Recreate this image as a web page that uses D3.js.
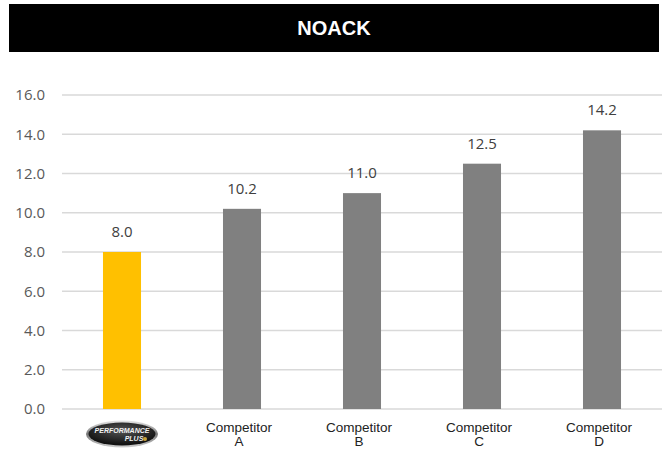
<!DOCTYPE html>
<html>
<head>
<meta charset="utf-8">
<script src="https://cdn.jsdelivr.net/npm/d3@7"></script>
<style>
  body { margin: 0; background: #fff; }
  svg { display: block; }
</style>
</head>
<body>
<svg id="chart"></svg>
<script>
// chart data
var categories = ["Performance Plus", "Competitor A", "Competitor B", "Competitor C", "Competitor D"];
var values = [8.0, 10.2, 11.0, 12.5, 14.2];
var barColors = ["#ffc000", "#808080", "#808080", "#808080", "#808080"];
var yTicks = [0, 2, 4, 6, 8, 10, 12, 14, 16];

var width = 668,
    height = 453,
    plotLeft = 62,
    plotRight = 662,
    plotTop = 95,
    plotBottom = 409;

var svg = d3.select("#chart")
    .attr("width", width)
    .attr("height", height);

// title bar
svg.append("rect")
    .attr("x", 9).attr("y", 4)
    .attr("width", 650).attr("height", 48)
    .attr("fill", "#000");
svg.append("text")
    .attr("x", 334).attr("y", 35)
    .attr("text-anchor", "middle")
    .attr("fill", "#fff")
    .style("font", "bold 20px 'Liberation Sans', Arial, sans-serif")
    .text("NOACK");

var x = d3.scaleBand()
    .domain(categories)
    .range([plotLeft, plotRight])
    .paddingInner(0.683)
    .paddingOuter(0.3415);

var y = d3.scaleLinear()
    .domain([0, 16])
    .range([plotBottom, plotTop]);

// gridlines
svg.append("g")
    .selectAll("line")
    .data(yTicks)
    .join("line")
    .attr("x1", plotLeft).attr("x2", plotRight)
    .attr("y1", function(d) { return y(d); })
    .attr("y2", function(d) { return y(d); })
    .attr("stroke", "#d9d9d9")
    .attr("stroke-width", 1.5);

// y axis labels
var yAxis = svg.append("g")
    .attr("transform", "translate(" + (plotLeft - 17) + ",0)")
    .call(d3.axisLeft(y).tickValues(yTicks).tickFormat(d3.format(".1f")).tickSize(0).tickPadding(0));
yAxis.select(".domain").remove();
yAxis.selectAll("text")
    .attr("fill", "#595959")
    .style("font", "15px 'Open Sans', 'Noto Sans', sans-serif");

// bars
svg.append("g")
    .selectAll("rect")
    .data(values)
    .join("rect")
    .attr("x", function(d, i) { return x(categories[i]); })
    .attr("y", function(d) { return y(d); })
    .attr("width", x.bandwidth())
    .attr("height", function(d) { return y(0) - y(d); })
    .attr("fill", function(d, i) { return barColors[i]; });

// value labels
svg.append("g")
    .selectAll("text")
    .data(values)
    .join("text")
    .attr("x", function(d, i) { return x(categories[i]) + x.bandwidth() / 2; })
    .attr("y", function(d) { return y(d) - 15; })
    .attr("text-anchor", "middle")
    .attr("fill", "#404040")
    .style("font", "15px 'Open Sans', 'Noto Sans', sans-serif")
    .text(function(d) { return d3.format(".1f")(d); });

// category labels
var catG = svg.append("g");
categories.slice(1).forEach(function(c) {
    var cx = x(c) + x.bandwidth() / 2 - 3;
    var parts = c.split(" ");
    var t = catG.append("text")
        .attr("text-anchor", "middle")
        .attr("fill", "#222")
        .style("font", "13.5px 'Liberation Sans', Arial, sans-serif");
    t.append("tspan").attr("x", cx).attr("y", 432).text(parts[0]);
    t.append("tspan").attr("x", cx).attr("y", 446).text(parts[1]);
});

// logo for first category
var lx = x(categories[0]) + x.bandwidth() / 2, ly = 434;
var defs = svg.append("defs");
var rim = defs.append("linearGradient").attr("id", "rim").attr("x1", 0).attr("y1", 0).attr("x2", 0).attr("y2", 1);
rim.append("stop").attr("offset", "0%").attr("stop-color", "#e8e8e8");
rim.append("stop").attr("offset", "50%").attr("stop-color", "#777");
rim.append("stop").attr("offset", "100%").attr("stop-color", "#cfcfcf");
var core = defs.append("radialGradient").attr("id", "core").attr("cx", "50%").attr("cy", "35%").attr("r", "60%");
core.append("stop").attr("offset", "0%").attr("stop-color", "#555");
core.append("stop").attr("offset", "100%").attr("stop-color", "#111");

var logo = svg.append("g").attr("transform", "translate(" + lx + "," + ly + ")");
logo.append("ellipse").attr("rx", 36).attr("ry", 13.5).attr("fill", "url(#rim)");
logo.append("ellipse").attr("rx", 33.5).attr("ry", 11.5).attr("fill", "url(#core)");
logo.append("text")
    .attr("x", 0).attr("y", -1)
    .attr("text-anchor", "middle")
    .attr("fill", "#f2f2f2")
    .style("font", "italic bold 7px 'Liberation Sans Narrow', 'Liberation Sans', Arial, sans-serif")
    .text("PERFORMANCE");
logo.append("text")
    .attr("x", 12).attr("y", 7)
    .attr("text-anchor", "middle")
    .attr("fill", "#f2f2f2")
    .style("font", "italic bold 7px 'Liberation Sans Narrow', 'Liberation Sans', Arial, sans-serif")
    .text("PLUS");
logo.append("circle").attr("cx", 23).attr("cy", 5).attr("r", 2).attr("fill", "#c9a23a");
</script>
</body>
</html>
